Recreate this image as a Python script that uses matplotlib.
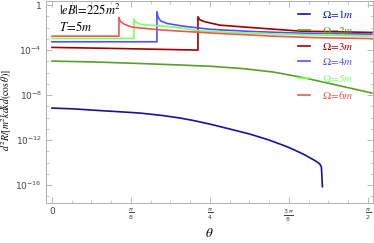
import numpy as np
import matplotlib
matplotlib.use("Agg")
import matplotlib.pyplot as plt
from matplotlib.ticker import FixedLocator, FixedFormatter

plt.rcParams['mathtext.fontset'] = 'stix'
plt.rcParams['font.family'] = ['DejaVu Sans']

# -------------------------
# DATA (theta in rad, value as log10)
# -------------------------
theta_1 = [0, 0.1, 0.239, 0.35, 0.437, 0.55, 0.636, 0.7, 0.785, 0.88, 0.984,
           1.08, 1.173, 1.22, 1.258, 1.29, 1.312, 1.332, 1.340, 1.345]
logv_1 = [-9.16, -9.22, -9.38, -9.5, -9.6, -9.82, -10.04, -10.25, -10.58, -11.0, -11.47,
          -12.0, -12.62, -13.0, -13.33, -13.65, -13.87, -14.13, -14.4, -16.15]

theta_2 = [0, 0.2, 0.4, 0.6, 0.8, 0.95, 1.1, 1.25, 1.4, 1.5, 1.591]
logv_2 = [-4.98, -5.05, -5.17, -5.3, -5.45, -5.65, -5.95, -6.45, -7.05, -7.45, -7.82]

theta_3 = [0, 0.36, 0.726, 0.726, 0.735, 0.76, 0.835, 0.98, 1.233, 1.591]
logv_3 = [-3.76, -3.87, -4.0, -1.04, -1.3, -1.48, -1.78, -1.98, -2.31, -2.43]

theta_4 = [0, 0.522, 0.522, 0.527, 0.54, 0.572, 0.651, 0.785, 1.0, 1.233, 1.591]
logv_4 = [-3.26, -3.26, -0.6, -1.05, -1.4, -1.63, -1.87, -2.15, -2.35, -2.49, -2.58]

theta_5 = [0, 0.408, 0.408, 0.415, 0.44, 0.487, 0.612, 0.736, 1.0, 1.233, 1.591]
logv_5 = [-2.96, -2.96, -1.24, -1.5, -1.7, -1.78, -1.96, -2.3, -2.5, -2.62, -2.76]

theta_6 = [0, 0.333, 0.333, 0.34, 0.36, 0.398, 0.55, 0.8, 1.1, 1.3, 1.591]
logv_6 = [-2.76, -2.76, -1.1, -1.45, -1.7, -1.96, -2.22, -2.49, -2.76, -2.89, -2.98]

labels = [r"$\Omega\!=\!1m$", r"$\Omega\!=\!2m$", r"$\Omega\!=\!3m$",
          r"$\Omega\!=\!4m$", r"$\Omega\!=\!5m$", r"$\Omega\!=\!6m$"]
colors = ["#14149a", "#58a02c", "#a00000", "#5050ff", "#80ff60", "#e85858"]

x_ticks = [0, np.pi / 8, np.pi / 4, 3 * np.pi / 8, np.pi / 2]
x_ticklabels = ["0", r"$\frac{\pi}{8}$", r"$\frac{\pi}{4}$", r"$\frac{3\,\pi}{8}$", r"$\frac{\pi}{2}$"]
y_ticks = [1e0, 1e-4, 1e-8, 1e-12, 1e-16]
y_ticklabels = ["1", r"$10^{-4}$", r"$10^{-8}$", r"$10^{-12}$", r"$10^{-16}$"]

# -------------------------
# PLOT
# -------------------------
fig = plt.figure(figsize=(3.74, 2.43), dpi=100)
ax = fig.add_axes([0.123, 0.1646, 0.874, 0.831])

series = [(theta_1, logv_1), (theta_2, logv_2), (theta_3, logv_3),
          (theta_4, logv_4), (theta_5, logv_5), (theta_6, logv_6)]
for (th, lv), lab, c in zip(series, labels, colors):
    ax.plot(th, 10.0 ** np.array(lv), color=c, lw=1.2, label=lab)

ax.set_yscale('log')
ax.set_xlim(-0.0298, 1.596)
ax.set_ylim(10 ** -17.6, 10 ** 0.36)

ax.xaxis.set_major_locator(FixedLocator(x_ticks))
ax.xaxis.set_major_formatter(FixedFormatter(x_ticklabels))
ax.xaxis.set_minor_locator(FixedLocator(np.arange(0, 17) * np.pi / 32))
ax.yaxis.set_major_locator(FixedLocator(y_ticks))
ax.yaxis.set_major_formatter(FixedFormatter(y_ticklabels))
ax.yaxis.set_minor_locator(FixedLocator(10.0 ** np.arange(-17, 1)))
ax.yaxis.set_minor_formatter(FixedFormatter([]))

for lab in ax.get_xticklabels() + ax.get_yticklabels():
    lab.set_math_fontfamily('dejavusans')
ax.tick_params(which='both', direction='in', top=True, right=True,
               color='#b0b0b0', labelcolor='#444444', labelsize=6.5, pad=3)
ax.tick_params(which='major', length=4, width=0.6)
ax.tick_params(which='minor', length=2, width=0.5)
for s in ax.spines.values():
    s.set_color('#b0b0b0')
    s.set_linewidth(0.7)

ax.set_xlabel(r"$\theta$", fontsize=9.5, labelpad=2)
ax.set_ylabel(r"$d^2R/[m^2kdkd(\cos\theta)]$", fontsize=7)
ax.yaxis.set_label_coords(-0.097, 0.46)

ax.text(0.04, 0.955, r"$|eB|\!=\!225m^2$", transform=ax.transAxes, fontsize=9, va='center')
ax.text(0.04, 0.87, r"$T\!=\!5m$", transform=ax.transAxes, fontsize=9, va='center')

leg = ax.legend(loc='upper right', bbox_to_anchor=(0.965, 1.0), frameon=False,
                fontsize=8, handlelength=1.1, handletextpad=1.1, labelspacing=0.42,
                borderaxespad=0.25, labelcolor='linecolor')

fig.savefig("out.png", dpi=100)
